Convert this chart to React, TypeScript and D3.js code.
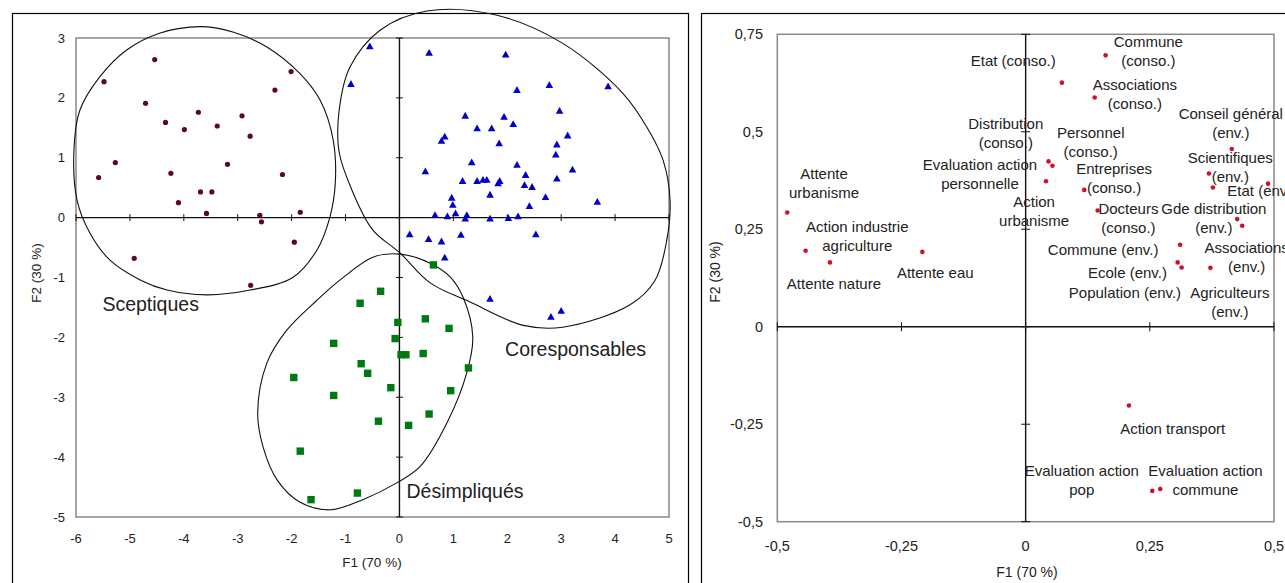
import React from "react";
import * as d3 from "d3";

// ---------- Left panel data (individuals) ----------
const sceptiques: [number, number][] = [
  [-5.48, 2.27], [-4.54, 2.64], [-4.71, 1.91], [-4.34, 1.59], [-3.99, 1.47],
  [-3.73, 1.76], [-3.38, 1.53], [-2.92, 1.7], [-2.77, 1.36], [-2.31, 2.13],
  [-2.01, 2.44], [-5.27, 0.92], [-5.58, 0.67], [-4.24, 0.74], [-3.19, 0.89],
  [-2.17, 0.72], [-3.69, 0.43], [-3.48, 0.43], [-4.1, 0.25], [-3.58, 0.07],
  [-2.59, 0.04], [-2.56, -0.07], [-1.84, 0.09], [-1.95, -0.41], [-4.92, -0.68],
  [-2.76, -1.13],
];

const coresponsables: [number, number][] = [
  [-0.55, 2.86], [-0.9, 2.23], [0.55, 2.75], [1.97, 2.72], [2.18, 2.13],
  [2.78, 2.21], [3.87, 2.19], [2.97, 1.78], [1.22, 1.7], [1.94, 1.68],
  [1.44, 1.49], [1.71, 1.49], [2.11, 1.56], [3.12, 1.37], [0.84, 1.35],
  [0.78, 1.28], [1.85, 1.24], [2.92, 1.22], [2.9, 1.05], [1.34, 0.92],
  [2.18, 0.88], [0.48, 0.77], [2.34, 0.71], [3.21, 0.8], [2.92, 0.65],
  [1.17, 0.61], [1.44, 0.61], [1.55, 0.63], [1.62, 0.63], [1.86, 0.61],
  [1.83, 0.57], [2.32, 0.54], [2.46, 0.51], [1.68, 0.38], [2.71, 0.34],
  [0.97, 0.33], [0.99, 0.21], [2.41, 0.19], [3.67, 0.26], [0.66, 0.04],
  [0.89, 0.02], [1.04, 0.07], [1.25, 0.04], [1.22, -0.02], [1.68, -0.02],
  [2.02, -0.01], [2.2, 0.02], [0.19, -0.28], [0.54, -0.36], [0.78, -0.4],
  [1.14, -0.29], [2.53, -0.28], [0.84, -0.67], [1.68, -1.36], [2.81, -1.66],
  [3.0, -1.56],
];

const desimpliques: [number, number][] = [
  [0.63, -0.79], [-0.35, -1.23], [-0.73, -1.43], [-0.03, -1.75], [0.48, -1.69],
  [0.92, -1.85], [-0.08, -2.02], [-1.22, -2.1], [0.03, -2.29], [0.12, -2.29],
  [0.44, -2.27], [-0.71, -2.44], [-0.59, -2.6], [1.28, -2.51], [-1.22, -2.97],
  [-0.16, -2.84], [0.95, -2.89], [0.55, -3.28], [-0.39, -3.4], [0.17, -3.47],
  [-0.78, -4.6], [-1.96, -2.67], [-1.84, -3.9], [-1.64, -4.71],
];

// group outlines (data units)
const outlineSceptiques: [number, number][] = [
  [-3.7, 3.19], [-3.09, 3.1], [-2.46, 2.85], [-1.85, 2.41], [-1.47, 1.96],
  [-1.23, 1.3], [-1.19, 0.58], [-1.29, 0.01], [-1.53, -0.54], [-1.98, -1.0],
  [-2.77, -1.21], [-3.57, -1.29], [-4.31, -1.21], [-4.81, -1.04], [-5.37, -0.71],
  [-5.74, -0.26], [-5.98, 0.29], [-6.04, 1.08], [-5.93, 1.79], [-5.56, 2.35],
  [-5.06, 2.8], [-4.45, 3.08],
];
const outlineCoresponsables: [number, number][] = [
  [0.51, 3.45], [1.81, 3.38], [3.03, 2.91], [4.14, 2.08], [4.59, 1.51],
  [4.89, 0.96], [5.02, 0.29], [4.96, -0.37], [4.74, -1.05], [4.27, -1.46],
  [3.03, -1.83], [2.3, -1.8], [1.31, -1.41], [0.57, -1.09], [0.01, -0.59],
  [-0.5, -0.2], [-0.9, 0.5], [-1.12, 1.1], [-1.12, 1.78], [-0.92, 2.51],
  [-0.36, 3.13],
];
const outlineDesimpliques: [number, number][] = [
  [0.01, -0.61], [0.57, -0.76], [0.94, -0.99], [1.18, -1.33], [1.36, -1.99],
  [1.25, -2.59], [0.88, -3.43], [0.38, -4.16], [-0.05, -4.43], [-0.68, -4.71],
  [-1.29, -4.88], [-1.85, -4.75], [-2.27, -4.38], [-2.53, -3.83], [-2.63, -3.26],
  [-2.46, -2.43], [-2.09, -1.88], [-1.53, -1.38], [-1.1, -1.04], [-0.49, -0.66],
];

const leftXTicks = [-6, -5, -4, -3, -2, -1, 0, 1, 2, 3, 4, 5];
const leftYTicks = [3, 2, 1, 0, -1, -2, -3, -4, -5];

const groupLabels = [
  { text: "Sceptiques", x: -5.51, y: -1.56 },
  { text: "Coresponsables", x: 1.96, y: -2.31 },
  { text: "Désimpliqués", x: 0.13, y: -4.68 },
];

// ---------- Right panel data (variables) ----------
const varPoints: [number, number][] = [
  [-0.48, 0.293], [-0.443, 0.195], [-0.394, 0.165], [-0.208, 0.192],
  [0.161, 0.696], [0.073, 0.626], [0.139, 0.588], [0.415, 0.456],
  [0.046, 0.424], [0.054, 0.413], [0.041, 0.373], [0.118, 0.351],
  [0.369, 0.393], [0.377, 0.357], [0.488, 0.367], [0.145, 0.298],
  [0.426, 0.276], [0.436, 0.259], [0.311, 0.21], [0.306, 0.165],
  [0.314, 0.152], [0.372, 0.151], [0.208, -0.202], [0.255, -0.421],
  [0.271, -0.416],
];

const varLabels: { lines: string[]; x: number; y: number; anchor?: string }[] = [
  { lines: ["Attente", "urbanisme"], x: -0.406, y: 0.379 },
  { lines: ["Action industrie", "agriculture"], x: -0.339, y: 0.244 },
  { lines: ["Attente nature"], x: -0.386, y: 0.097 },
  { lines: ["Attente eau"], x: -0.182, y: 0.125 },
  { lines: ["Etat (conso.)"], x: -0.025, y: 0.669 },
  { lines: ["Commune", "(conso.)"], x: 0.247, y: 0.717 },
  { lines: ["Associations", "(conso.)"], x: 0.22, y: 0.606 },
  { lines: ["Distribution", "(conso.)"], x: -0.04, y: 0.507 },
  { lines: ["Personnel", "(conso.)"], x: 0.131, y: 0.485 },
  { lines: ["Evaluation action", "personnelle"], x: -0.092, y: 0.402 },
  { lines: ["Entreprises", "(conso.)"], x: 0.178, y: 0.391 },
  { lines: ["Action", "urbanisme"], x: 0.017, y: 0.308 },
  { lines: ["Docteurs", "(conso.)"], x: 0.207, y: 0.289 },
  { lines: ["Conseil général", "(env.)"], x: 0.413, y: 0.534 },
  { lines: ["Scientifiques", "(env.)"], x: 0.412, y: 0.419 },
  { lines: ["Etat (env.)"], x: 0.406, y: 0.335, anchor: "start" },
  { lines: ["Gde distribution", "(env.)"], x: 0.379, y: 0.289 },
  { lines: ["Commune (env.)"], x: 0.156, y: 0.184 },
  { lines: ["Associations", "(env.)"], x: 0.445, y: 0.189 },
  { lines: ["Ecole (env.)"], x: 0.205, y: 0.125 },
  { lines: ["Population (env.)"], x: 0.2, y: 0.074 },
  { lines: ["Agriculteurs", "(env.)"], x: 0.411, y: 0.074 },
  { lines: ["Action transport"], x: 0.296, y: -0.275 },
  { lines: ["Evaluation action", "pop"], x: 0.113, y: -0.383 },
  { lines: ["Evaluation action", "commune"], x: 0.362, y: -0.383 },
];

const rightXTicks = [-0.5, -0.25, 0, 0.25, 0.5];
const rightYTicks = [0.75, 0.5, 0.25, 0, -0.25, -0.5];

const FONT = "'Liberation Sans', Arial, sans-serif";
const TXT = "#222";
const fmt = (v: number) => String(v).replace(".", ",");

function LeftPanel() {
  const x = d3.scaleLinear().domain([-6, 5]).range([76, 669]);
  const y = d3.scaleLinear().domain([-5, 3]).range([517, 38]);
  const line = d3
    .line<[number, number]>()
    .x((d) => x(d[0]))
    .y((d) => y(d[1]))
    .curve(d3.curveCatmullRomClosed.alpha(0.5));
  const x0 = x(0);
  const y0 = y(0);
  return (
    <g>
      <rect x={12.5} y={13.5} width={676} height={600} fill="none" stroke="#000" strokeWidth={1.2} />
      <rect x={76} y={38} width={593} height={479} fill="none" stroke="#888" strokeWidth={1.5} />
      <line x1={76} x2={669} y1={y0} y2={y0} stroke="#111" strokeWidth={1.4} />
      <line x1={x0} x2={x0} y1={38} y2={517} stroke="#111" strokeWidth={1.4} />
      {leftXTicks.map((t) => (
        <line key={"xt" + t} x1={x(t)} x2={x(t)} y1={y0 - 3.5} y2={y0 + 3.5} stroke="#111" strokeWidth={1} />
      ))}
      {leftYTicks.map((t) => (
        <line key={"yt" + t} x1={x0 - 3.5} x2={x0 + 3.5} y1={y(t)} y2={y(t)} stroke="#111" strokeWidth={1} />
      ))}
      {leftXTicks.map((t) => (
        <text key={"xl" + t} x={x(t)} y={543} textAnchor="middle" fontSize={13} fontFamily={FONT} fill={TXT}>
          {fmt(t)}
        </text>
      ))}
      {leftYTicks.map((t) => (
        <text key={"yl" + t} x={65} y={y(t) + 4.5} textAnchor="end" fontSize={13} fontFamily={FONT} fill={TXT}>
          {fmt(t)}
        </text>
      ))}
      <text x={372} y={567} textAnchor="middle" fontSize={13.5} fontFamily={FONT} fill={TXT}>
        F1 (70 %)
      </text>
      <text
        transform={`translate(41,273) rotate(-90)`}
        textAnchor="middle"
        fontSize={13.5}
        fontFamily={FONT}
        fill={TXT}
      >
        F2 (30 %)
      </text>
      {[outlineSceptiques, outlineCoresponsables, outlineDesimpliques].map((o, i) => (
        <path key={"o" + i} d={line(o) || ""} fill="none" stroke="#111" strokeWidth={1.1} />
      ))}
      {sceptiques.map((d, i) => (
        <circle key={"s" + i} cx={x(d[0])} cy={y(d[1])} r={2.6} fill="#5a0a18" />
      ))}
      {coresponsables.map((d, i) => {
        const cx = x(d[0]);
        const cy = y(d[1]);
        return (
          <path
            key={"c" + i}
            d={`M${cx},${cy - 4} L${cx + 3.8},${cy + 2.8} L${cx - 3.8},${cy + 2.8} Z`}
            fill="#0000c8"
          />
        );
      })}
      {desimpliques.map((d, i) => (
        <rect key={"d" + i} x={x(d[0]) - 3.7} y={y(d[1]) - 3.7} width={7.4} height={7.4} fill="#007a10" />
      ))}
      {groupLabels.map((g) => (
        <text key={g.text} x={x(g.x)} y={y(g.y)} fontSize={19.5} fontFamily={FONT} fill={TXT}>
          {g.text}
        </text>
      ))}
    </g>
  );
}

function RightPanel() {
  const x = d3.scaleLinear().domain([-0.5, 0.5]).range([777.3, 1274]);
  const y = d3.scaleLinear().domain([-0.5, 0.75]).range([521.7, 34.3]);
  const x0 = x(0);
  const y0 = y(0);
  return (
    <g>
      <rect x={701.5} y={13.5} width={700} height={600} fill="none" stroke="#000" strokeWidth={1.2} />
      <rect x={777.3} y={34.3} width={496.7} height={487.4} fill="none" stroke="#888" strokeWidth={1.5} />
      <line x1={777.3} x2={1274} y1={y0} y2={y0} stroke="#111" strokeWidth={1.4} />
      <line x1={x0} x2={x0} y1={34.3} y2={521.7} stroke="#111" strokeWidth={1.4} />
      {rightXTicks.map((t) => (
        <line key={"xt" + t} x1={x(t)} x2={x(t)} y1={y0 - 4.5} y2={y0 + 4.5} stroke="#111" strokeWidth={1} />
      ))}
      {rightYTicks.map((t) => (
        <line key={"yt" + t} x1={x0 - 4.5} x2={x0 + 4.5} y1={y(t)} y2={y(t)} stroke="#111" strokeWidth={1} />
      ))}
      {rightXTicks.map((t) => (
        <text key={"xl" + t} x={x(t)} y={551} textAnchor="middle" fontSize={14.5} fontFamily={FONT} fill={TXT}>
          {fmt(t)}
        </text>
      ))}
      {rightYTicks.map((t) => (
        <text key={"yl" + t} x={763} y={y(t) + 5} textAnchor="end" fontSize={14.5} fontFamily={FONT} fill={TXT}>
          {fmt(t)}
        </text>
      ))}
      <text x={1027} y={577} textAnchor="middle" fontSize={14} fontFamily={FONT} fill={TXT}>
        F1 (70 %)
      </text>
      <text
        transform={`translate(720,272) rotate(-90)`}
        textAnchor="middle"
        fontSize={14}
        fontFamily={FONT}
        fill={TXT}
      >
        F2 (30 %)
      </text>
      {varPoints.map((d, i) => (
        <circle key={"p" + i} cx={x(d[0])} cy={y(d[1])} r={2.3} fill="#d0102a" />
      ))}
      {varLabels.map((l, i) => (
        <text
          key={"l" + i}
          x={x(l.x)}
          y={y(l.y)}
          textAnchor={l.anchor || "middle"}
          fontSize={15}
          fontFamily={FONT}
          fill={TXT}
        >
          {l.lines.map((s, j) => (
            <tspan key={j} x={x(l.x)} dy={j === 0 ? 0 : 19}>
              {s}
            </tspan>
          ))}
        </text>
      ))}
    </g>
  );
}

export default function App() {
  return (
    <svg
      width={1285}
      height={583}
      style={{ position: "absolute", left: 0, top: 0, background: "#fff" }}
    >
      <rect width={1285} height={583} fill="#fff" />
      <LeftPanel />
      <RightPanel />
    </svg>
  );
}
